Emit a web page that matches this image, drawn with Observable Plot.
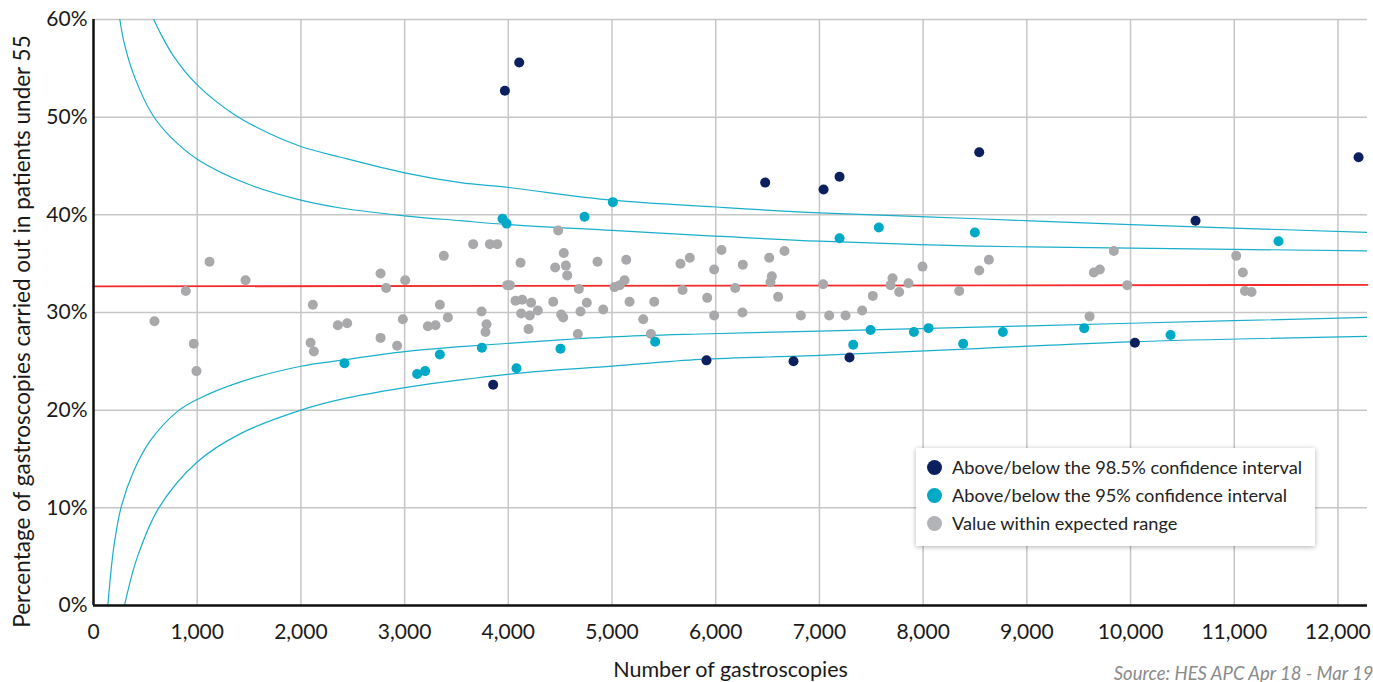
<!DOCTYPE html>
<html><head><meta charset="utf-8">
<script src="https://cdn.jsdelivr.net/npm/d3@7"></script>
<script src="https://cdn.jsdelivr.net/npm/@observablehq/plot@0.6"></script>
<style>
body{margin:0;background:#fff;font-family:Lato,sans-serif;}
#wrap{position:relative;width:1373px;height:682px;overflow:hidden;}
#legend{position:absolute;left:916px;top:448px;width:399px;height:98px;background:#fff;box-shadow:0 1px 5px rgba(0,0,0,0.3);font-size:18.2px;color:#222;font-family:Lato,sans-serif;}
.item{position:absolute;left:0;height:20px;display:flex;align-items:center;white-space:nowrap;}
.sw{width:15px;height:15px;border-radius:50%;margin-left:11px;margin-right:10px;}
</style></head>
<body><div id="wrap"></div>
<script>
// ---- Data ----
const xTicks = [0,1000,2000,3000,4000,5000,6000,7000,8000,9000,10000,11000,12000];
const yTicks = [0,10,20,30,40,50,60];

const categories = ["Above/below the 98.5% confidence interval","Above/below the 95% confidence interval","Value within expected range"];
const colors = ["#0c1f5e","#00a9c5","#a9a9ab"];

// Above/below 98.5% (navy)
const outerN = [3967,4105,3854,6477,7040,7194,5911,6750,7290,8541,12199,10627,10042];
const outerP = [52.7,55.6,22.6,43.3,42.6,43.9,25.1,25.0,25.4,46.4,45.9,39.4,26.9];

// Above/below 95% (teal)
const innerN = [3944,3983,5008,4735,3745,3340,2420,3121,3198,4079,4503,5416,7194,7573,7493,7326,7911,8052,8499,11427,8386,8769,9553,10386];
const innerP = [39.6,39.1,41.3,39.8,26.4,25.7,24.8,23.7,24.0,24.3,26.3,27.0,37.6,38.7,28.2,26.7,28.0,28.4,38.2,37.3,26.8,28.0,28.4,27.7];

// Within expected range (gray)
const withinN = [588,890,1119,1466,967,993,2115,2093,2125,2356,2446,2768,2822,3006,2768,2928,2983,3224,3298,3340,3378,3417,3661,3822,3893,3742,3790,3780,3990,4015,4118,4069,4134,4220,4124,4207,4195,
  4481,4535,4452,4555,4568,4860,5137,5660,5750,4680,5024,5075,5121,5680,4285,4433,4510,4529,4696,4757,4915,5169,5407,5301,5375,4670,
  6056,5985,6261,6516,6663,6541,6528,5918,6188,6602,5985,6258,6821,7036,7094,7252,7412,7515,7686,7705,7769,7859,7994,
  8541,8634,8348,9839,9646,9704,9968,9605,11019,11083,11103,11167];
const withinP = [29.1,32.2,35.2,33.3,26.8,24.0,30.8,26.9,26.0,28.7,28.9,34.0,32.5,33.3,27.4,26.6,29.3,28.6,28.7,30.8,35.8,29.5,37.0,37.0,37.0,30.1,28.8,28.0,32.8,32.8,35.1,31.2,31.3,31.0,29.9,29.7,28.3,
  38.4,36.1,34.6,34.8,33.8,35.2,35.4,35.0,35.6,32.4,32.6,32.8,33.3,32.3,30.2,31.1,29.8,29.5,30.1,31.0,30.3,31.1,31.1,29.3,27.8,27.8,
  36.4,34.4,34.9,35.6,36.3,33.7,33.1,31.5,32.5,31.6,29.7,30.0,29.7,32.9,29.7,29.7,30.2,31.7,32.8,33.5,32.1,33.0,34.7,
  34.3,35.4,32.2,36.3,34.1,34.4,32.8,29.6,35.8,34.1,32.2,32.1];

// Funnel limits
const outerUpperN = [581,650,775,1000,1353,1700,2000,2382,3000,3539,4000,5000,6000,7000,8520,10000,12285];
const outerUpperP = [60,58.5,56.2,53.3,50.3,48.3,47.0,45.9,44.3,43.3,42.8,41.5,40.8,40.2,39.6,39.0,38.2];
const innerUpperN = [254,300,400,566,750,1000,1500,2000,2382,3000,3539,4000,5000,5853,7000,8520,10000,12285];
const innerUpperP = [60,57.4,54.0,50.3,47.9,45.7,43.1,41.5,40.7,39.9,39.4,39.0,38.4,37.9,37.3,36.8,36.6,36.3];
const innerLowerN = [138,196,267,389,550,813,1000,1418,2000,2382,3000,3539,4214,5000,5853,7000,8520,10000,12285];
const innerLowerP = [0,6.0,10.1,13.8,16.9,19.9,21.1,22.9,24.5,25.1,26.0,26.5,27.0,27.5,27.8,28.1,28.5,28.9,29.5];
const outerLowerN = [299,421,630,1000,1418,2000,2382,3000,3539,4214,5000,5853,7000,8520,10000,12285];
const outerLowerP = [0,4.9,10.0,14.7,17.6,20.0,21.1,22.3,23.1,23.9,24.5,25.2,25.6,26.3,27.0,27.55];

const meanN = [0,12285];
const meanP = [32.67,32.83];

const xLabel = "Number of gastroscopies";
const yLabel = "Percentage of gastroscopies carried out in patients under 55";
const source = "Source: HES APC Apr 18 - Mar 19";

// ---- Build tables ----
const toPts = (ns, ps, key, val) => ns.map((n, i) => ({n, p: ps[i], [key]: val}));
const funnel = [
  ...toPts(outerUpperN, outerUpperP, "c", "ou"),
  ...toPts(innerUpperN, innerUpperP, "c", "iu"),
  ...toPts(innerLowerN, innerLowerP, "c", "il"),
  ...toPts(outerLowerN, outerLowerP, "c", "ol")
];
const mean = toPts(meanN, meanP, "c", "m");
const dotsWithin = toPts(withinN, withinP, "cat", categories[2]);
const dotsInner = toPts(innerN, innerP, "cat", categories[1]);
const dotsOuter = toPts(outerN, outerP, "cat", categories[0]);

const chart = Plot.plot({
  width: 1373,
  height: 682,
  marginLeft: 93,
  marginRight: 6,
  marginTop: 19,
  marginBottom: 77,
  style: {fontFamily: "Lato, sans-serif", fontSize: "21px", color: "#1a1a1a", background: "transparent"},
  x: {domain: [0, 12285]},
  y: {domain: [0, 60]},
  marks: [
    Plot.gridX(xTicks, {stroke: "#c6c6c6", strokeOpacity: 1, strokeWidth: 1.5}),
    Plot.gridY(yTicks, {stroke: "#c6c6c6", strokeOpacity: 1, strokeWidth: 1.5}),
    Plot.line(funnel, {x: "n", y: "p", z: "c", curve: "catmull-rom", stroke: "#19aecb", strokeWidth: 1.2, clip: true}),
    Plot.line(mean, {x: "n", y: "p", stroke: "#f42a2a", strokeWidth: 1.8}),
    Plot.dot(dotsWithin, {x: "n", y: "p", r: 5, fill: colors[2]}),
    Plot.dot(dotsInner, {x: "n", y: "p", r: 5, fill: colors[1]}),
    Plot.dot(dotsOuter, {x: "n", y: "p", r: 5, fill: colors[0]}),
    Plot.ruleX([0], {stroke: "#111", strokeWidth: 2.5}),
    Plot.ruleY([0], {stroke: "#111", strokeWidth: 2.5}),
    Plot.axisX(xTicks, {tickSize: 0, tickPadding: 19, tickFormat: d3.format(","), label: null, fontSize: 21}),
    Plot.axisY(yTicks, {tickSize: 0, tickPadding: 6, tickFormat: d => d + "%", label: null, fontSize: 21}),
    Plot.text([xLabel], {frameAnchor: "bottom", dy: 71, fontSize: 21.5, fill: "#1a1a1a"}),
    Plot.text([yLabel], {frameAnchor: "left", textAnchor: "middle", dx: -71, dy: 19, rotate: -90, fontSize: 22.5, fill: "#1a1a1a"}),
    Plot.text([source], {frameAnchor: "bottom-right", dx: 6, dy: 74, textAnchor: "end", fontSize: 18.5, fontStyle: "italic", fill: "#8a8a8a"})
  ]
});
const wrap = document.getElementById("wrap");
wrap.appendChild(chart);

const legend = document.createElement("div");
legend.id = "legend";
categories.forEach((c, i) => {
  const it = document.createElement("div");
  it.className = "item";
  it.style.top = (9 + i * 28) + "px";
  const sw = document.createElement("span");
  sw.className = "sw";
  sw.style.background = i === 2 ? "#b2b3b7" : colors[i];
  const t = document.createElement("span");
  t.textContent = c;
  it.appendChild(sw); it.appendChild(t);
  legend.appendChild(it);
});
wrap.appendChild(legend);
</script>
</body></html>
